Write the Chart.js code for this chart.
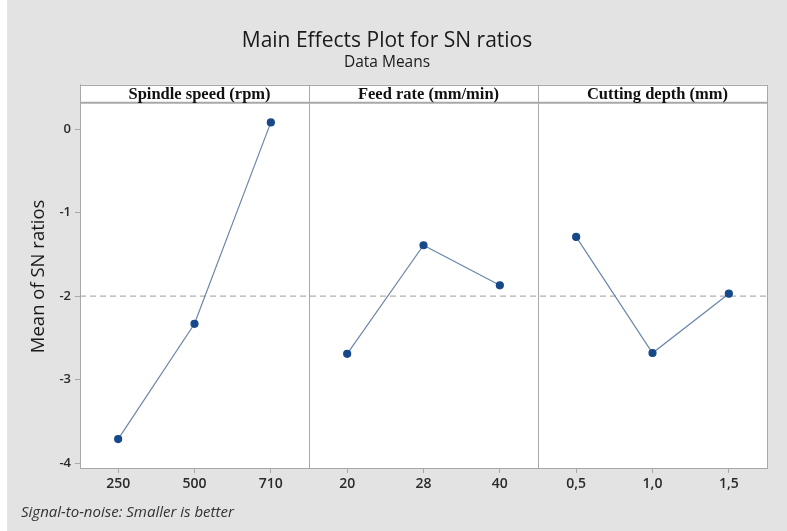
<!DOCTYPE html>
<html>
<head>
<meta charset="utf-8">
<script src="https://cdn.jsdelivr.net/npm/chart.js@4.4.1/dist/chart.umd.min.js"></script>
<style>
  html, body { margin: 0; padding: 0; background: #ffffff; }
  #wrap { position: absolute; left: 7px; top: 0; width: 780px; height: 531px; background: #e3e3e3; }
  canvas { display: block; }
</style>
</head>
<body>
<div id="wrap"><canvas id="c" width="780" height="531"></canvas></div>
<script>
// ---- data ----
const factorNames = ['Spindle speed (rpm)', 'Feed rate (mm/min)', 'Cutting depth (mm)'];
const spindleLevels = ['250', '500', '710'];
const feedLevels = ['20', '28', '40'];
const depthLevels = ['0,5', '1,0', '1,5'];
const spindleSN = [-3.71, -2.33, 0.08];
const feedSN = [-2.69, -1.39, -1.87];
const depthSN = [-1.29, -2.68, -1.97];
const grandMean = -2.0;
const yTicks = [0, -1, -2, -3, -4];

const levelGroups = [spindleLevels, feedLevels, depthLevels];
const valueGroups = [spindleSN, feedSN, depthSN];
const allLabels = [].concat(spindleLevels, feedLevels, depthLevels);

const LINE_COLOR = '#6a86aa';
const POINT_COLOR = '#17498a';
const FRAME = '#a8a8a8';
const HEADER_H = 18;

const datasets = levelGroups.map((lv, g) => ({
  label: factorNames[g],
  data: lv.map((l, i) => ({ x: l, y: valueGroups[g][i] })),
  borderColor: LINE_COLOR,
  borderWidth: 1.2,
  pointBackgroundColor: POINT_COLOR,
  pointBorderColor: POINT_COLOR,
  pointRadius: 3.5,
  tension: 0
}));

const panelPlugin = {
  id: 'panels',
  beforeDatasetsDraw(chart) {
    const { ctx, chartArea: a, scales: { x, y } } = chart;
    ctx.save();
    ctx.fillStyle = '#ffffff';
    ctx.fillRect(a.left, a.top, a.right - a.left, a.bottom - a.top);
    // grand mean reference line
    const ym = y.getPixelForValue(grandMean);
    ctx.strokeStyle = '#b0b0b0';
    ctx.lineWidth = 1.2;
    ctx.setLineDash([6, 4]);
    ctx.beginPath();
    ctx.moveTo(a.left, ym);
    ctx.lineTo(a.right, ym);
    ctx.stroke();
    ctx.setLineDash([]);
    // panel dividers
    ctx.strokeStyle = FRAME;
    ctx.lineWidth = 1;
    let start = 0;
    for (let g = 0; g < levelGroups.length - 1; g++) {
      start += levelGroups[g].length;
      const px = Math.round(x.getPixelForValue(start - 0.5)) + 0.5;
      ctx.beginPath();
      ctx.moveTo(px, a.top);
      ctx.lineTo(px, a.bottom);
      ctx.stroke();
    }
    // header strip
    ctx.lineWidth = 2;
    ctx.beginPath();
    ctx.moveTo(a.left, a.top + HEADER_H);
    ctx.lineTo(a.right, a.top + HEADER_H);
    ctx.stroke();
    ctx.lineWidth = 1;
    ctx.strokeRect(Math.round(a.left) + 0.5, Math.round(a.top) + 0.5, Math.round(a.right - a.left), Math.round(a.bottom - a.top));
    // header texts
    ctx.fillStyle = '#111111';
    ctx.font = 'bold 16.5px "Liberation Serif", serif';
    ctx.textAlign = 'center';
    ctx.textBaseline = 'middle';
    let s = 0;
    levelGroups.forEach((lv, g) => {
      const cx = x.getPixelForValue(s + (lv.length - 1) / 2) + 5;
      ctx.fillText(factorNames[g], cx, a.top + HEADER_H / 2 + 1);
      s += lv.length;
    });
    ctx.restore();
  },
  afterDraw(chart) {
    const { ctx } = chart;
    ctx.save();
    ctx.fillStyle = '#333333';
    ctx.font = 'italic 15px "Open Sans", sans-serif';
    ctx.textAlign = 'left';
    ctx.textBaseline = 'middle';
    ctx.fillText('Signal-to-noise: Smaller is better', 14, 513);
    ctx.restore();
  }
};

new Chart(document.getElementById('c'), {
  type: 'line',
  data: { labels: allLabels, datasets },
  options: {
    responsive: false,
    animation: false,
    layout: { padding: { left: 0, right: 20, top: 0, bottom: 23 } },
    plugins: {
      legend: { display: false },
      tooltip: { enabled: false },
      title: {
        display: true,
        text: 'Main Effects Plot for SN ratios',
        color: '#1a1a1a',
        font: { family: '"Open Sans", sans-serif', size: 21, weight: '500', lineHeight: 1.2 },
        padding: { top: 28, bottom: 0 }
      },
      subtitle: {
        display: true,
        text: 'Data Means',
        color: '#1a1a1a',
        font: { family: '"Open Sans", sans-serif', size: 15.5, weight: '500', lineHeight: 1.2 },
        padding: { top: 0, bottom: 13 }
      }
    },
    scales: {
      x: {
        type: 'category',
        offset: true,
        afterFit(scale) { scale.height = 40; },
        grid: { display: true, drawOnChartArea: false, drawTicks: true, tickLength: 5, color: FRAME },
        border: { display: true, color: FRAME },
        ticks: {
          color: '#2a2a2a',
          padding: 3,
          maxRotation: 0,
          autoSkip: false,
          font: { family: '"Open Sans", sans-serif', size: 14, weight: '600' }
        }
      },
      y: {
        min: -4.056,
        max: 0.53,
        afterFit(scale) { scale.width = 73; },
        afterBuildTicks(scale) { scale.ticks = yTicks.map(v => ({ value: v })); },
        grid: { display: true, drawOnChartArea: false, drawTicks: true, tickLength: 5, color: FRAME },
        border: { display: true, color: FRAME },
        ticks: {
          color: '#2a2a2a',
          padding: 4,
          font: { family: '"Open Sans", sans-serif', size: 13, weight: '600' }
        },
        title: {
          display: true,
          text: 'Mean of SN ratios',
          color: '#1a1a1a',
          font: { family: '"Open Sans", sans-serif', size: 18.5, weight: '500' },
          padding: { top: 21, bottom: 0 }
        }
      }
    }
  },
  plugins: [panelPlugin]
});
</script>
</body>
</html>
